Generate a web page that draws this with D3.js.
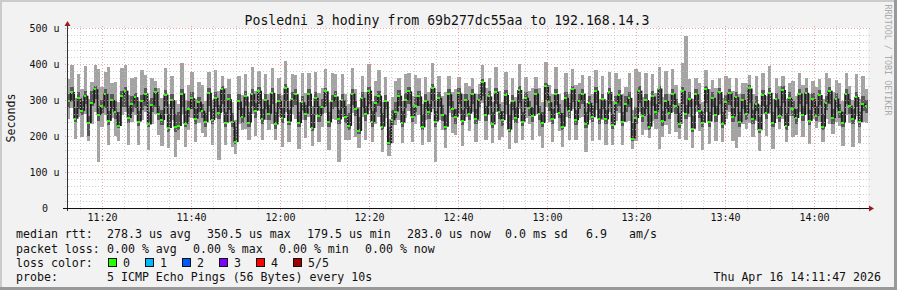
<!DOCTYPE html>
<html>
<head>
<meta charset="utf-8">
<script src="https://cdn.jsdelivr.net/npm/d3@7"></script>
<style>
  body { margin: 0; background: #f2f2f2; }
  svg { display: block; font-family: "DejaVu Sans Mono", monospace; }
</style>
</head>
<body>
<div id="chart"></div>
<script>
// median rtt per 45 s step, in microseconds
const medianRtt = [
  296, 322, 248, 305, 270, 312, 236, 291, 330, 258, 284, 318, 242, 300, 266, 228, 312, 326, 250, 290,
  308, 240, 296, 318, 232, 286, 322, 262, 244, 315, 222, 300, 226, 228, 318, 234, 276, 305, 248, 295,
  270, 238, 320, 244, 306, 264, 330, 236, 302, 240, 183, 296, 252, 310, 236, 318, 270, 326, 246, 300,
  262, 320, 232, 298, 250, 334, 240, 302, 316, 236, 294, 262, 318, 222, 306, 256, 280, 324, 238, 296,
  310, 246, 300, 252, 228, 318, 276, 214, 306, 260, 326, 238, 292, 312, 226, 296, 180, 244, 268, 312,
  236, 300, 324, 254, 284, 310, 224, 298, 266, 334, 240, 306, 258, 226, 316, 274, 252, 320, 242, 300,
  262, 318, 246, 300, 350, 258, 310, 232, 322, 268, 244, 314, 218, 296, 250, 328, 240, 306, 278, 256,
  318, 262, 236, 340, 294, 248, 316, 264, 226, 306, 270, 330, 244, 298, 318, 232, 292, 252, 326, 248,
  302, 246, 322, 230, 292, 314, 240, 288, 306, 193, 250, 326, 256, 300, 226, 310, 268, 332, 242, 298,
  264, 318, 284, 234, 326, 262, 304, 220, 316, 270, 236, 330, 240, 306, 258, 322, 232, 294, 320, 254,
  308, 238, 300, 262, 332, 246, 290, 216, 314, 264, 320, 236, 302, 256, 328, 228, 306, 276, 250, 318,
  258, 320, 242, 302, 256, 314, 226, 292, 326, 250, 304, 268, 236, 318, 284, 246, 308, 238, 290, 283
];
// distance from median down to 2nd ping
const innerBelow = [
  18, 25, 10, 30, 12, 22, 35, 8, 28, 15, 20, 40, 12, 26, 18, 6, 32, 45, 14, 22,
  30, 12, 24, 36, 8, 20, 42, 18, 14, 33, 10, 26, 15, 12, 38, 9, 22, 30, 16, 28,
  20, 14, 36, 10, 26, 18, 40, 12, 30, 15, 6, 24, 16, 28, 10, 34, 20, 38, 14, 26,
  18, 32, 12, 24, 15, 38, 10, 22, 30, 12, 25, 18, 34, 8, 26, 16, 20, 40, 12, 22,
  30, 14, 22, 16, 10, 32, 20, 8, 28, 18, 36, 12, 24, 30, 9, 22, 6, 14, 18, 30,
  10, 22, 34, 16, 18, 28, 8, 24, 20, 38, 14, 26, 16, 10, 32, 22, 18, 30, 12, 24,
  18, 30, 14, 22, 40, 16, 26, 10, 34, 20, 15, 28, 8, 24, 14, 36, 12, 26, 22, 16,
  32, 18, 12, 40, 24, 16, 30, 14, 9, 26, 20, 36, 14, 22, 30, 10, 24, 14, 34, 16,
  26, 14, 32, 10, 22, 30, 12, 20, 26, 6, 16, 34, 18, 24, 10, 28, 20, 42, 14, 22,
  18, 30, 22, 12, 36, 16, 24, 9, 30, 20, 12, 38, 14, 26, 18, 32, 10, 22, 34, 16,
  28, 12, 24, 18, 40, 14, 20, 8, 30, 18, 34, 12, 24, 16, 36, 10, 26, 20, 16, 30,
  16, 32, 12, 24, 14, 28, 9, 20, 36, 16, 26, 18, 10, 30, 22, 14, 28, 12, 20, 18
];
// distance from median up to 4th ping
const innerAbove = [
  22, 14, 30, 18, 26, 12, 20, 34, 10, 24, 16, 12, 28, 18, 30, 40, 14, 10, 32, 20,
  12, 30, 18, 14, 36, 20, 10, 22, 28, 12, 40, 18, 34, 38, 12, 36, 20, 16, 28, 14,
  18, 26, 12, 32, 16, 22, 10, 30, 14, 24, 42, 20, 26, 14, 32, 12, 22, 10, 28, 16,
  24, 12, 34, 18, 28, 10, 32, 20, 14, 30, 18, 24, 12, 38, 16, 26, 22, 10, 30, 18,
  14, 26, 18, 30, 36, 12, 22, 40, 16, 24, 10, 32, 20, 14, 38, 18, 44, 28, 26, 16,
  34, 20, 12, 26, 24, 16, 38, 18, 22, 10, 30, 16, 28, 36, 14, 22, 24, 12, 30, 18,
  22, 12, 28, 18, 8, 24, 16, 34, 10, 20, 26, 14, 40, 18, 30, 10, 28, 16, 20, 24,
  12, 22, 32, 8, 18, 26, 14, 24, 38, 16, 22, 10, 28, 20, 12, 34, 18, 30, 10, 26,
  16, 26, 12, 32, 20, 14, 28, 22, 16, 44, 30, 12, 24, 18, 36, 16, 22, 8, 28, 18,
  22, 12, 18, 30, 10, 24, 18, 36, 14, 20, 32, 10, 28, 16, 24, 12, 34, 20, 10, 24,
  14, 28, 18, 24, 10, 26, 20, 38, 14, 22, 12, 30, 18, 26, 10, 36, 16, 22, 24, 12,
  24, 12, 30, 18, 26, 14, 36, 20, 10, 24, 16, 22, 32, 12, 18, 28, 14, 30, 20, 18
];
// distance from 2nd ping down to fastest ping
const outerBelow = [
  30, 18, 45, 22, 60, 28, 15, 50, 35, 116, 40, 20, 55, 25, 48, 36, 22, 14, 62, 30,
  20, 52, 28, 16, 64, 34, 18, 40, 58, 22, 44, 30, 70, 26, 18, 55, 36, 24, 48, 32,
  42, 26, 18, 60, 30, 112, 22, 48, 34, 56, 28, 40, 20, 62, 36, 24, 50, 18, 44, 30,
  26, 54, 32, 20, 66, 28, 46, 18, 38, 60, 24, 50, 30, 42, 22, 56, 34, 20, 64, 28,
  36, 104, 24, 48, 30, 22, 58, 40, 26, 52, 18, 44, 34, 28, 62, 24, 30, 50, 20, 38,
  46, 28, 20, 56, 34, 24, 40, 30, 62, 22, 99, 36, 26, 50, 20, 44, 32, 28, 58, 24,
  30, 22, 48, 36, 18, 54, 26, 42, 20, 60, 32, 24, 46, 28, 56, 18, 40, 30, 22, 50,
  24, 44, 58, 20, 32, 50, 22, 36, 48, 28, 60, 18, 40, 26, 34, 66, 24, 52, 20, 42,
  32, 56, 22, 44, 28, 20, 54, 30, 38, 24, 48, 26, 34, 60, 22, 40, 28, 125, 30, 46,
  40, 22, 50, 30, 24, 58, 28, 44, 20, 36, 62, 26, 48, 22, 54, 30, 38, 24, 18, 52,
  112, 30, 42, 24, 56, 34, 28, 50, 22, 46, 26, 60, 32, 20, 44, 36, 24, 58, 30, 22,
  44, 26, 52, 30, 20, 48, 34, 24, 58, 28, 40, 22, 54, 30, 26, 62, 24, 46, 32, 28
];
// distance from 4th ping up to slowest ping
const outerAbove = [
  40, 62, 28, 50, 34, 70, 46, 24, 58, 105, 36, 48, 122, 30, 55, 26, 64, 60, 32, 52,
  44, 26, 68, 38, 30, 56, 22, 48, 34, 62, 28, 50, 36, 24, 72, 30, 46, 58, 26, 40,
  54, 32, 46, 24, 60, 38, 28, 66, 42, 30, 20, 52, 36, 48, 26, 62, 34, 44, 30, 56,
  30, 58, 26, 44, 36, 64, 24, 50, 40, 28, 62, 34, 46, 22, 56, 38, 30, 52, 26, 60,
  48, 28, 54, 36, 24, 60, 32, 26, 46, 38, 64, 28, 42, 56, 30, 50, 22, 36, 58, 34,
  26, 52, 40, 30, 62, 36, 28, 48, 34, 58, 30, 44, 24, 60, 38, 26, 54, 32, 46, 28,
  56, 30, 44, 26, 38, 52, 34, 28, 60, 36, 24, 50, 30, 46, 28, 62, 36, 42, 26, 54,
  34, 48, 26, 58, 30, 44, 62, 28, 36, 52, 24, 46, 70, 30, 40, 26, 56, 34, 48, 30,
  50, 28, 44, 36, 62, 30, 48, 26, 54, 34, 107, 40, 28, 58, 36, 46, 30, 52, 38, 64,
  32, 56, 40, 28, 66, 193, 36, 48, 30, 58, 26, 44, 62, 34, 50, 28, 40, 54, 32, 46,
  38, 52, 30, 60, 28, 44, 56, 32, 48, 26, 62, 36, 42, 58, 30, 40, 26, 54, 36, 44,
  60, 28, 46, 34, 54, 30, 40, 62, 26, 48, 36, 56, 30, 44, 38, 26, 50, 34, 58, 30
];

const yTicks = [0, 100, 200, 300, 400, 500];
const lossLabels = ["0", "1", "2", "3", "4", "5/5"];
const lossColors = ["#26ff00", "#00b8ff", "#0059ff", "#7e00ff", "#ff0000", "#a10000"];

const startTime = new Date(2026, 3, 16, 11, 12, 8);
const endTime = new Date(2026, 3, 16, 14, 12, 8);
const stepSec = 45;

const svgWidth = 897;
const svgHeight = 290;
const plot = { left: 67, right: 868, top: 28, bottom: 208 };

const svg = d3.select("#chart")
  .append("svg")
  .attr("width", svgWidth)
  .attr("height", svgHeight);

// frame with rrdtool style shading
svg.append("rect").attr("width", svgWidth).attr("height", svgHeight).attr("fill", "#f2f2f2");
svg.append("rect").attr("x", 0).attr("y", 0).attr("width", svgWidth).attr("height", 2).attr("fill", "#cbcbcb");
svg.append("rect").attr("x", 0).attr("y", 0).attr("width", 2).attr("height", svgHeight).attr("fill", "#cbcbcb");
svg.append("rect").attr("x", 0).attr("y", svgHeight - 3).attr("width", svgWidth).attr("height", 3).attr("fill", "#999");
svg.append("rect").attr("x", svgWidth - 3).attr("y", 0).attr("width", 3).attr("height", svgHeight).attr("fill", "#999");

const x = d3.scaleTime().domain([startTime, endTime]).range([plot.left, plot.right]);
const y = d3.scaleLinear().domain([0, 500]).range([plot.bottom, plot.top]);

// canvas
svg.append("rect")
  .attr("x", plot.left).attr("y", plot.top)
  .attr("width", plot.right - plot.left).attr("height", plot.bottom - plot.top)
  .attr("fill", "#fff");

// build rows
const rows = medianRtt.map((m, i) => {
  const t0 = new Date(startTime.getTime() + i * stepSec * 1000);
  const t1 = new Date(t0.getTime() + stepSec * 1000);
  const p2 = m - innerBelow[i];
  const p4 = m + innerAbove[i];
  return { t0, t1, med: m, p2, p4, lo: p2 - outerBelow[i], hi: p4 + outerAbove[i],
    prev: i > 0 ? medianRtt[i - 1] : m };
});

const smoke = svg.append("g").attr("shape-rendering", "crispEdges");

smoke.selectAll("rect.outer")
  .data(rows)
  .enter().append("rect")
  .attr("class", "outer")
  .attr("x", d => x(d.t0))
  .attr("width", d => x(d.t1) - x(d.t0))
  .attr("y", d => y(d.hi))
  .attr("height", d => y(d.lo) - y(d.hi))
  .attr("fill", "#a4a4a4");

smoke.selectAll("rect.inner")
  .data(rows)
  .enter().append("rect")
  .attr("class", "inner")
  .attr("x", d => x(d.t0))
  .attr("width", d => x(d.t1) - x(d.t0))
  .attr("y", d => y(d.p4))
  .attr("height", d => y(d.p2) - y(d.p4))
  .attr("fill", "#585858");

// vertical jumps of the median step line
svg.append("g").selectAll("line")
  .data(rows)
  .enter().append("line")
  .attr("x1", d => x(d.t0) + 0.5)
  .attr("x2", d => x(d.t0) + 0.5)
  .attr("y1", d => y(d.prev))
  .attr("y2", d => y(d.med))
  .attr("stroke", "#1c1c1c")
  .attr("stroke-width", 1.8);

// median marks, coloured by loss (0 loss everywhere)
svg.append("g").attr("shape-rendering", "crispEdges").selectAll("rect")
  .data(rows)
  .enter().append("rect")
  .attr("x", d => x(d.t0))
  .attr("width", d => Math.max(2, x(d.t1) - x(d.t0) - 0.6))
  .attr("y", d => y(d.med) - 1)
  .attr("height", 2)
  .attr("fill", lossColors[0]);

// grid, drawn over the smoke like rrdtool does
const grid = svg.append("g").attr("shape-rendering", "crispEdges");
const minorY = d3.range(20, 500, 20).filter(v => v % 100 !== 0);
const majorY = yTicks.filter(v => v > 0);
const minorX = d3.timeMinute.every(5).range(startTime, endTime).filter(t => t.getMinutes() % 20 !== 0);
const majorX = d3.timeMinute.every(20).range(startTime, endTime);

grid.selectAll("line.hmin").data(minorY).enter().append("line")
  .attr("x1", plot.left - 2).attr("x2", plot.right + 2)
  .attr("y1", d => Math.round(y(d)) + 0.5).attr("y2", d => Math.round(y(d)) + 0.5)
  .attr("stroke", "#c0c0c0").attr("stroke-opacity", 0.75).attr("stroke-dasharray", "1,2");
grid.selectAll("line.vmin").data(minorX).enter().append("line")
  .attr("y1", plot.top - 2).attr("y2", plot.bottom + 2)
  .attr("x1", d => Math.round(x(d)) + 0.5).attr("x2", d => Math.round(x(d)) + 0.5)
  .attr("stroke", "#c0c0c0").attr("stroke-opacity", 0.75).attr("stroke-dasharray", "1,2");
grid.selectAll("line.hmaj").data(majorY).enter().append("line")
  .attr("x1", plot.left - 2).attr("x2", plot.right + 2)
  .attr("y1", d => Math.round(y(d)) + 0.5).attr("y2", d => Math.round(y(d)) + 0.5)
  .attr("stroke", "#f08080").attr("stroke-opacity", 0.7).attr("stroke-dasharray", "1,2");
grid.selectAll("line.vmaj").data(majorX).enter().append("line")
  .attr("y1", plot.top - 2).attr("y2", plot.bottom + 2)
  .attr("x1", d => Math.round(x(d)) + 0.5).attr("x2", d => Math.round(x(d)) + 0.5)
  .attr("stroke", "#f08080").attr("stroke-opacity", 0.7).attr("stroke-dasharray", "1,2");

// axes lines and arrows
svg.append("line")
  .attr("x1", plot.left + 0.5).attr("x2", plot.left + 0.5)
  .attr("y1", plot.bottom + 3).attr("y2", plot.top - 4)
  .attr("stroke", "#333").attr("shape-rendering", "crispEdges");
svg.append("line")
  .attr("x1", plot.left - 4).attr("x2", plot.right + 1)
  .attr("y1", plot.bottom + 0.5).attr("y2", plot.bottom + 0.5)
  .attr("stroke", "#111").attr("shape-rendering", "crispEdges");
svg.append("path")
  .attr("d", `M${plot.left + 0.5},${plot.top - 7} L${plot.left - 2.5},${plot.top - 2} L${plot.left + 3.5},${plot.top - 2} Z`)
  .attr("fill", "#9b1c1c");
svg.append("path")
  .attr("d", `M${plot.right + 6},${plot.bottom + 0.5} L${plot.right + 1},${plot.bottom - 2.5} L${plot.right + 1},${plot.bottom + 3.5} Z`)
  .attr("fill", "#9b1c1c");

// y axis labels
const yAxis = svg.append("g")
  .attr("transform", `translate(${plot.left},0)`)
  .call(d3.axisLeft(y).tickValues(yTicks).tickSize(0).tickPadding(7.5)
    .tickFormat(d => d === 0 ? "0" : d + " u"));
yAxis.select(".domain").remove();
yAxis.selectAll("text")
  .attr("font-family", "DejaVu Sans Mono").attr("font-size", 10).attr("fill", "#111")
  .attr("x", d => d === 0 ? -19 : -7.5);

// x axis labels
const xAxis = svg.append("g")
  .attr("transform", `translate(0,${plot.bottom})`)
  .call(d3.axisBottom(x).ticks(d3.timeMinute.every(20)).tickSize(0).tickPadding(6)
    .tickFormat(d3.timeFormat("%H:%M")));
xAxis.select(".domain").remove();
xAxis.selectAll("text")
  .attr("font-family", "DejaVu Sans Mono").attr("font-size", 10).attr("fill", "#111");

// title and side texts
svg.append("text")
  .attr("x", 447).attr("y", 20)
  .attr("text-anchor", "middle").attr("dominant-baseline", "central")
  .attr("font-size", 13.2).attr("fill", "#111")
  .text("Posledni 3 hodiny from 69b277dc55aa to 192.168.14.3");

svg.append("text")
  .attr("transform", "translate(11,118) rotate(-90)")
  .attr("text-anchor", "middle").attr("dominant-baseline", "central")
  .attr("font-size", 11.6).attr("fill", "#111")
  .text("Seconds");

svg.append("text")
  .attr("transform", "translate(888,60) rotate(90)")
  .attr("text-anchor", "middle").attr("dominant-baseline", "central")
  .attr("font-size", 8.4).attr("fill", "#aaa")
  .text("RRDTOOL / TOBI OETIKER");

// legend
const legendPieces = [
  [16, 234, "median rtt:"], [107, 234, "278.3 us avg"], [207, 234, "350.5 us max"],
  [307, 234, "179.5 us min"], [407, 234, "283.0 us now"], [505, 234, "0.0 ms sd"],
  [586, 234, "6.9"], [629, 234, "am/s"],
  [16, 248.5, "packet loss:"], [107, 248.5, "0.00 % avg"], [193, 248.5, "0.00 % max"],
  [279, 248.5, "0.00 % min"], [365, 248.5, "0.00 % now"],
  [16, 262.7, "loss color:"],
  [16, 276.8, "probe:"], [107, 276.8, "5 ICMP Echo Pings (56 Bytes) every 10s"]
];
svg.append("g").selectAll("text")
  .data(legendPieces)
  .enter().append("text")
  .attr("x", d => d[0]).attr("y", d => d[1])
  .attr("dominant-baseline", "central")
  .attr("font-size", 11.6).attr("fill", "#111")
  .attr("xml:space", "preserve")
  .text(d => d[2]);

const lossKey = svg.append("g").selectAll("g")
  .data(lossLabels)
  .enter().append("g")
  .attr("transform", (d, i) => `translate(${108.5 + i * 37},258.5)`);
lossKey.append("rect")
  .attr("width", 8).attr("height", 8)
  .attr("fill", (d, i) => lossColors[i])
  .attr("stroke", "#111").attr("stroke-width", 1);
lossKey.append("text")
  .attr("x", 14.5).attr("y", 4.2)
  .attr("dominant-baseline", "central")
  .attr("font-size", 11.6).attr("fill", "#111")
  .text(d => d);

svg.append("text")
  .attr("x", 881).attr("y", 276.8)
  .attr("text-anchor", "end").attr("dominant-baseline", "central")
  .attr("font-size", 11.6).attr("fill", "#111")
  .text("Thu Apr 16 14:11:47 2026");
</script>
</body>
</html>
